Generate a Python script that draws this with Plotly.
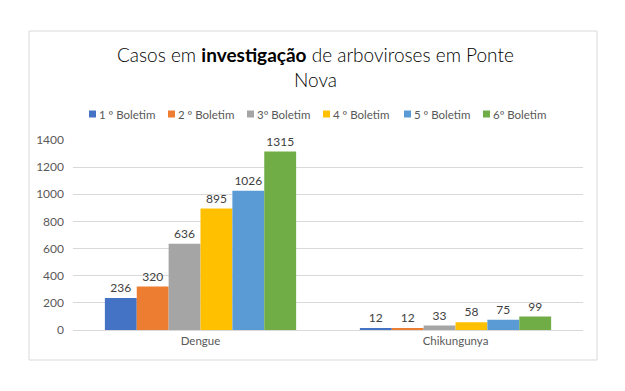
import plotly.graph_objects as go

categories = ["Dengue", "Chikungunya"]
series_names = ["1 º Boletim", "2 º Boletim", "3º Boletim", "4 º Boletim", "5 º Boletim", "6º Boletim"]
b1 = [236, 12]
b2 = [320, 12]
b3 = [636, 33]
b4 = [895, 58]
b5 = [1026, 75]
b6 = [1315, 99]
series_values = [b1, b2, b3, b4, b5, b6]
colors = ["#4472C4", "#ED7D31", "#A5A5A5", "#FFC000", "#5B9BD5", "#70AD47"]
y_ticks = [0, 200, 400, 600, 800, 1000, 1200, 1400]

FONT = "Lato"

fig = go.Figure()
for name, vals, c in zip(series_names, series_values, colors):
    fig.add_trace(go.Bar(
        x=categories, y=vals, name=name, marker_color=c, marker_line_width=0,
        text=[str(v) for v in vals], textposition="outside",
        textfont=dict(size=12, color="#404040", family=FONT),
        cliponaxis=False, showlegend=False,
    ))

W, H = 625, 391
L, R, T, B = 73, 42, 140, 61
pw, ph = W - L - R, H - T - B

def px_x(x):
    return (x - L) / pw

def px_y(y):
    return (H - B - y) / ph

shapes = [dict(type="rect", xref="paper", yref="paper",
               x0=px_x(29), x1=px_x(597), y0=px_y(360), y1=px_y(31),
               line=dict(color="#d9d9d9", width=1), fillcolor="rgba(0,0,0,0)", layer="below")]
annotations = [
    dict(text="Casos em <b>investigação</b> de arboviroses em Ponte", xref="paper", yref="paper",
         x=px_x(315), y=px_y(55), xanchor="center", yanchor="middle", showarrow=False,
         font=dict(size=19, color="#000000", family=FONT, weight=300)),
    dict(text="Nova", xref="paper", yref="paper",
         x=px_x(315), y=px_y(80), xanchor="center", yanchor="middle", showarrow=False,
         font=dict(size=19, color="#000000", family=FONT, weight=300)),
]

# legend (drawn manually to match compact Excel-style spacing)
legend_left = [89, 168, 247, 323, 404, 483]
ly = 114
for name, c, lx in zip(series_names, colors, legend_left):
    shapes.append(dict(type="rect", xref="paper", yref="paper",
                       x0=px_x(lx), x1=px_x(lx + 7), y0=px_y(ly + 3.5), y1=px_y(ly - 3.5),
                       line=dict(width=0), fillcolor=c))
    annotations.append(dict(text=name, xref="paper", yref="paper",
                            x=px_x(lx + 8), y=px_y(ly), xanchor="left", yanchor="middle",
                            showarrow=False, font=dict(size=11.5, color="#595959", family=FONT)))

fig.update_layout(
    width=W, height=H,
    margin=dict(l=L, r=R, t=T, b=B, autoexpand=False),
    paper_bgcolor="white", plot_bgcolor="white",
    barmode="group", bargap=0.25, bargroupgap=0,
    font=dict(family=FONT, color="#595959", size=12),
    showlegend=False,
    xaxis=dict(showgrid=False, showline=True, linecolor="#d9d9d9", linewidth=1,
               ticks="", tickfont=dict(size=11.5, color="#595959")),
    yaxis=dict(range=[0, 1400], tickvals=y_ticks, showgrid=True, gridcolor="#d9d9d9",
               gridwidth=1, zeroline=False, showline=False, ticks="",
               tickfont=dict(size=12, color="#595959"), ticklabelstandoff=8),
    shapes=shapes,
    annotations=annotations,
)

fig.write_html("out.html", config={"displayModeBar": False},
               post_script="document.body.style.margin='0px';")
